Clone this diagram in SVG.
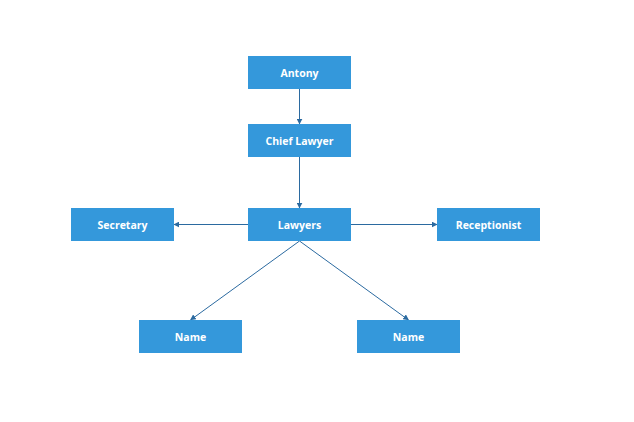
<svg xmlns="http://www.w3.org/2000/svg" width="634" height="422" viewBox="0 0 634 422">
<defs>
<style>
.box{fill:#3498db;}
.lbl{fill:#ffffff;font-family:"Open Sans","DejaVu Sans",sans-serif;font-weight:bold;font-size:10.5px;text-anchor:middle;dominant-baseline:central;}
.conn{stroke:#2b6aa0;stroke-width:1;fill:none;marker-end:url(#arr);}
</style>
<marker id="arr" viewBox="0 0 10 10" refX="9" refY="5" markerWidth="6" markerHeight="6" orient="auto" markerUnits="userSpaceOnUse">
<path d="M0,0 L10,5 L0,10 z" fill="#2b6aa0"/>
</marker>
</defs>
<rect width="634" height="422" fill="#ffffff"/>
<g id="connectors">
<line class="conn" x1="299.5" y1="89" x2="299.5" y2="124"/>
<line class="conn" x1="299.5" y1="157" x2="299.5" y2="208"/>
<line class="conn" x1="248" y1="224.5" x2="174" y2="224.5"/>
<line class="conn" x1="351" y1="224.5" x2="437" y2="224.5"/>
<line class="conn" x1="299.5" y1="241" x2="190.5" y2="320"/>
<line class="conn" x1="299.5" y1="241" x2="408.5" y2="320"/>
</g>
<g id="antony"><rect class="box" x="248" y="56" width="103" height="33"/><text class="lbl" x="299.5" y="72.5">Antony</text></g>
<g id="chief-lawyer"><rect class="box" x="248" y="124" width="103" height="33"/><text class="lbl" x="299.5" y="140.5">Chief Lawyer</text></g>
<g id="lawyers"><rect class="box" x="248" y="208" width="103" height="33"/><text class="lbl" x="299.5" y="224.5">Lawyers</text></g>
<g id="secretary"><rect class="box" x="71" y="208" width="103" height="33"/><text class="lbl" x="122.5" y="224.5">Secretary</text></g>
<g id="receptionist"><rect class="box" x="437" y="208" width="103" height="33"/><text class="lbl" x="488.5" y="224.5">Receptionist</text></g>
<g id="name-left"><rect class="box" x="139" y="320" width="103" height="33"/><text class="lbl" x="190.5" y="336.5">Name</text></g>
<g id="name-right"><rect class="box" x="357" y="320" width="103" height="33"/><text class="lbl" x="408.5" y="336.5">Name</text></g>
</svg>
